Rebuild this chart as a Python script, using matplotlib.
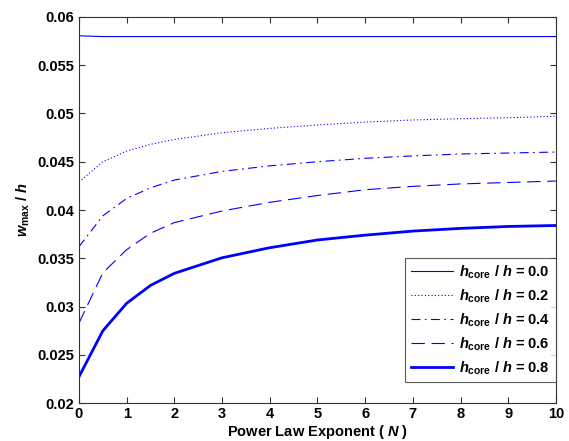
import matplotlib
matplotlib.use('Agg')
import matplotlib.pyplot as plt

plt.rcParams['font.family'] = 'Liberation Sans'
plt.rcParams['font.weight'] = 'bold'
plt.rcParams['mathtext.fontset'] = 'custom'
plt.rcParams['mathtext.rm'] = 'Liberation Sans:bold'
plt.rcParams['mathtext.it'] = 'Liberation Sans:bold:italic'
plt.rcParams['mathtext.bf'] = 'Liberation Sans:bold'

# power law exponent N
N = [0, 0.5, 1, 1.5, 2, 3, 4, 5, 6, 7, 8, 9, 10]

# w_max / h for each h_core / h
w_00 = [0.05803, 0.05795, 0.05795, 0.05795, 0.05795, 0.05795, 0.05795,
        0.05795, 0.05795, 0.05795, 0.05795, 0.05795, 0.05795]
w_02 = [0.0429, 0.0450, 0.0461, 0.0468, 0.0473, 0.0480, 0.04845,
        0.0488, 0.0491, 0.04932, 0.04945, 0.04955, 0.0497]
w_04 = [0.0362, 0.0394, 0.0412, 0.0423, 0.0431, 0.0440, 0.04457,
        0.0450, 0.04535, 0.0456, 0.0458, 0.0459, 0.0460]
w_06 = [0.0283, 0.0335, 0.0359, 0.0376, 0.0387, 0.0399, 0.0408,
        0.0415, 0.0421, 0.04245, 0.0427, 0.04285, 0.0430]
w_08 = [0.02275, 0.0275, 0.03035, 0.0322, 0.03345, 0.03506, 0.0361,
        0.0369, 0.0374, 0.03782, 0.0381, 0.0383, 0.0384]

x_ticks = list(range(0, 11))
y_ticks = [0.02, 0.025, 0.03, 0.035, 0.04, 0.045, 0.05, 0.055, 0.06]
y_tick_labels = ['0.02', '0.025', '0.03', '0.035', '0.04', '0.045',
                 '0.05', '0.055', '0.06']

series = [w_00, w_02, w_04, w_06, w_08]
labels = ['0.0', '0.2', '0.4', '0.6', '0.8']
styles = ['-', (0, (1, 2)), (0, (8, 4, 1.5, 4)), (0, (12, 6)), '-']
widths = [0.8, 0.8, 0.8, 0.8, 2.0]

fig = plt.figure(figsize=(5.69, 4.41), dpi=100)
ax = fig.add_axes([0.1388, 0.0855, 0.977 - 0.1388, 0.962 - 0.0855])

for vals, lab, ls, lw in zip(series, labels, styles, widths):
    ax.plot(N, vals, color='blue', linestyle=ls, linewidth=lw,
            label=r'$h_{\rm core}$ / $h$ = ' + lab)

ax.set_xlim(0, 10)
ax.set_ylim(0.02, 0.06)
ax.set_xticks(x_ticks)
ax.set_xticklabels([str(v) for v in x_ticks], fontweight='bold', fontsize=10.5)
ax.set_yticks(y_ticks)
ax.set_yticklabels(y_tick_labels, fontweight='bold', fontsize=10.5)
ax.tick_params(direction='in', top=True, right=True,
               length=4, width=0.8, colors='#333333', labelcolor='black')
ax.tick_params(axis='x', pad=3)
for s in ax.spines.values():
    s.set_color('#333333')
    s.set_linewidth(0.8)

ax.set_xlabel(r'Power Law Exponent ( $N$ )', fontsize=10.5, fontweight='bold',
              labelpad=1)
ax.set_ylabel(r'$w_{\rm max}$ / $h$', fontsize=10.5, fontweight='bold',
              labelpad=4)

leg = ax.legend(loc='lower right', bbox_to_anchor=(1.0, 0.054),
                borderaxespad=0, fontsize=10.5, fancybox=False,
                handlelength=2.9, labelspacing=0.45, borderpad=0.4,
                handletextpad=0.4)
leg.get_frame().set_edgecolor('#333333')
leg.get_frame().set_linewidth(0.8)
for t in leg.get_texts():
    t.set_fontweight('bold')

fig.savefig('out.png', dpi=100)
